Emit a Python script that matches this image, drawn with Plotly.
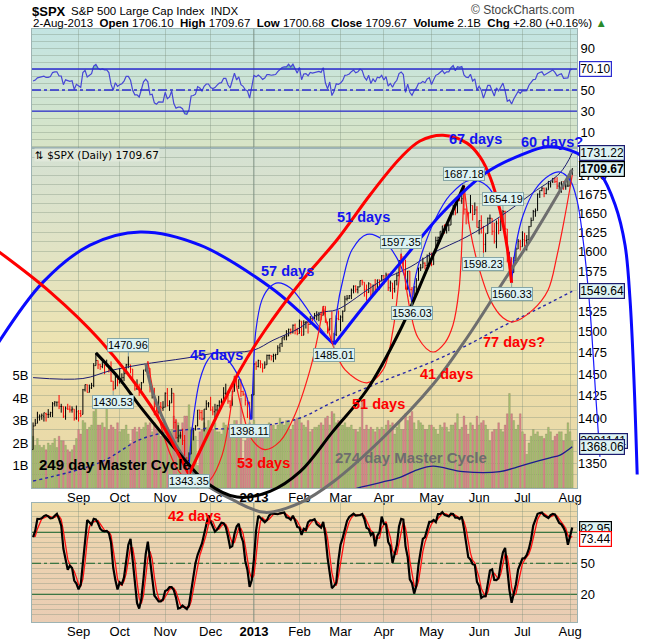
import base64
import numpy as np
import pandas as pd
import plotly.graph_objects as go

# ---------------------------------------------------------------- data
month_labels = ['Sep', 'Oct', 'Nov', 'Dec', '2013', 'Feb', 'Mar', 'Apr', 'May', 'Jun', 'Jul', 'Aug']
month_start_idx = [21, 40, 61, 82, 102, 123, 142, 162, 184, 206, 226, 248]

# July 2012 (before the visible window, needed for RSI / stochastic warm-up)
pre_open = [1362, 1366, 1374, 1368, 1355, 1352, 1341, 1341, 1335, 1357, 1354, 1364, 1373, 1377, 1363, 1351, 1338, 1338, 1360, 1386, 1385, 1379, 1375]
pre_high = [1367, 1375, 1374, 1368, 1355, 1362, 1345, 1341, 1358, 1357, 1365, 1376, 1380, 1377, 1363, 1352, 1343, 1363, 1389, 1391, 1387, 1386, 1375]
pre_low = [1355, 1366, 1363, 1349, 1347, 1337, 1333, 1326, 1335, 1348, 1345, 1358, 1371, 1362, 1330, 1329, 1332, 1338, 1360, 1381, 1379, 1371, 1354]
pre_close = [1366, 1374, 1368, 1355, 1352, 1341, 1341, 1335, 1357, 1354, 1364, 1373, 1377, 1363, 1351, 1338, 1338, 1360, 1386, 1385, 1379, 1375, 1365]

# 3-Aug-2012 .. 2-Aug-2013 daily bars
opens = [
    1365, 1391, 1394, 1401, 1402, 1402, 1405, 1404, 1404, 1406, 1416, 1418, 1418, 1413, 1413, 1402, 1411, 1410, 1409, 1410, 1400,
    1407, 1405, 1404, 1432, 1438, 1429, 1434, 1437, 1460, 1466, 1461, 1459, 1461, 1460, 1459, 1457, 1442, 1433, 1447,
    1441, 1444, 1446, 1451, 1461, 1461, 1456, 1441, 1433, 1433, 1429, 1440, 1455, 1461, 1457, 1433, 1434, 1413, 1409, 1413, 1411,
    1412, 1428, 1414, 1417, 1428, 1395, 1378, 1380, 1380, 1375, 1355, 1353, 1360, 1387, 1388, 1391, 1409, 1406, 1399, 1410, 1416,
    1416, 1409, 1407, 1409, 1414, 1418, 1419, 1428, 1428, 1419, 1414, 1430, 1447, 1436, 1444, 1430, 1427, 1420, 1418, 1402,
    1426, 1462, 1459, 1466, 1462, 1457, 1461, 1472, 1472, 1471, 1472, 1473, 1481, 1486, 1493, 1495, 1495, 1503, 1500, 1508, 1502,
    1498, 1513, 1496, 1511, 1512, 1509, 1518, 1517, 1519, 1520, 1521, 1520, 1531, 1512, 1502, 1516, 1488, 1497, 1516,
    1515, 1518, 1525, 1540, 1541, 1544, 1551, 1556, 1552, 1555, 1563, 1561, 1552, 1548, 1559, 1546, 1557, 1552, 1564, 1563,
    1569, 1562, 1570, 1554, 1560, 1553, 1563, 1569, 1588, 1593, 1589, 1552, 1575, 1552, 1542, 1555, 1563, 1579, 1579, 1585, 1582, 1594,
    1598, 1583, 1598, 1614, 1618, 1626, 1633, 1627, 1634, 1634, 1650, 1659, 1650, 1667, 1666, 1669, 1655, 1651, 1650, 1660, 1648, 1654,
    1631, 1640, 1631, 1609, 1623, 1643, 1643, 1626, 1613, 1636, 1627, 1639, 1652, 1629, 1588, 1592, 1573, 1588, 1603, 1613,
    1606, 1615, 1614, 1615, 1632, 1640, 1652, 1653, 1675, 1680, 1683, 1676, 1681, 1689, 1692, 1696, 1692, 1686, 1690, 1692, 1685, 1686,
    1686, 1706]
highs = [
    1395, 1399, 1407, 1404, 1405, 1406, 1406, 1410, 1407, 1418, 1419, 1418, 1426, 1416, 1413, 1413, 1416, 1414, 1413, 1410, 1414,
    1409, 1409, 1433, 1438, 1438, 1438, 1440, 1463, 1475, 1466, 1462, 1465, 1461, 1467, 1460, 1465, 1442, 1450, 1447,
    1457, 1451, 1455, 1462, 1471, 1461, 1456, 1442, 1444, 1439, 1441, 1455, 1462, 1465, 1457, 1436, 1434, 1421, 1425, 1418, 1419,
    1429, 1434, 1420, 1434, 1428, 1399, 1392, 1385, 1388, 1381, 1357, 1362, 1387, 1389, 1392, 1409, 1409, 1409, 1410, 1420, 1418,
    1424, 1413, 1416, 1415, 1420, 1422, 1435, 1439, 1431, 1420, 1431, 1448, 1448, 1444, 1444, 1431, 1428, 1423, 1418, 1427,
    1463, 1465, 1467, 1466, 1462, 1465, 1473, 1473, 1472, 1474, 1474, 1484, 1486, 1493, 1496, 1502, 1504, 1504, 1509, 1510, 1505,
    1515, 1513, 1514, 1513, 1512, 1519, 1518, 1523, 1525, 1524, 1524, 1531, 1531, 1512, 1516, 1525, 1499, 1520, 1526,
    1520, 1526, 1544, 1545, 1545, 1553, 1557, 1557, 1556, 1563, 1564, 1561, 1558, 1561, 1559, 1558, 1565, 1564, 1564, 1570,
    1570, 1573, 1572, 1563, 1560, 1563, 1573, 1589, 1597, 1593, 1589, 1575, 1575, 1555, 1556, 1566, 1579, 1584, 1592, 1586, 1596, 1598,
    1598, 1598, 1619, 1619, 1626, 1633, 1635, 1634, 1636, 1651, 1661, 1661, 1668, 1672, 1675, 1687, 1656, 1651, 1674, 1660, 1664, 1659,
    1640, 1647, 1633, 1623, 1644, 1648, 1643, 1637, 1640, 1643, 1648, 1654, 1653, 1629, 1599, 1592, 1593, 1605, 1616, 1615,
    1626, 1624, 1621, 1633, 1644, 1654, 1656, 1676, 1680, 1685, 1684, 1684, 1693, 1692, 1697, 1698, 1698, 1691, 1692, 1692, 1693, 1699,
    1707, 1710]
lows = [
    1365, 1391, 1394, 1397, 1398, 1396, 1396, 1400, 1401, 1401, 1413, 1413, 1410, 1406, 1400, 1398, 1409, 1406, 1406, 1397, 1398,
    1396, 1401, 1404, 1430, 1429, 1429, 1433, 1435, 1460, 1456, 1455, 1457, 1450, 1459, 1452, 1441, 1431, 1433, 1436,
    1439, 1439, 1442, 1451, 1457, 1451, 1441, 1431, 1432, 1425, 1427, 1440, 1453, 1452, 1429, 1422, 1403, 1407, 1405, 1403, 1408,
    1412, 1413, 1408, 1417, 1388, 1377, 1373, 1377, 1370, 1352, 1348, 1343, 1360, 1375, 1386, 1391, 1398, 1397, 1385, 1409, 1412,
    1408, 1403, 1399, 1404, 1410, 1415, 1419, 1426, 1416, 1411, 1414, 1430, 1435, 1433, 1424, 1425, 1414, 1400, 1398, 1399,
    1426, 1455, 1458, 1457, 1452, 1457, 1461, 1467, 1466, 1464, 1467, 1473, 1476, 1482, 1490, 1490, 1495, 1497, 1498, 1497, 1496,
    1498, 1495, 1496, 1504, 1498, 1509, 1513, 1515, 1514, 1513, 1514, 1520, 1511, 1498, 1502, 1488, 1485, 1495, 1514,
    1501, 1512, 1525, 1538, 1540, 1540, 1547, 1548, 1547, 1555, 1557, 1543, 1538, 1548, 1543, 1546, 1546, 1552, 1551, 1562,
    1558, 1562, 1550, 1549, 1540, 1548, 1557, 1569, 1586, 1579, 1552, 1552, 1543, 1536, 1539, 1548, 1563, 1575, 1579, 1577, 1582, 1587,
    1581, 1583, 1598, 1611, 1612, 1623, 1623, 1623, 1626, 1634, 1647, 1647, 1650, 1666, 1662, 1648, 1635, 1636, 1650, 1640, 1648, 1631,
    1622, 1623, 1598, 1599, 1623, 1636, 1621, 1610, 1604, 1622, 1627, 1639, 1628, 1586, 1578, 1560, 1573, 1588, 1603, 1601,
    1606, 1606, 1601, 1615, 1632, 1640, 1645, 1653, 1670, 1679, 1671, 1675, 1681, 1684, 1690, 1690, 1682, 1681, 1677, 1681, 1681, 1685,
    1686, 1701]
closes = [
    1391, 1394, 1401, 1402, 1403, 1406, 1404, 1404, 1406, 1416, 1418, 1418, 1413, 1413, 1402, 1411, 1410, 1409, 1410, 1399, 1407,
    1405, 1403, 1432, 1438, 1429, 1434, 1437, 1460, 1466, 1461, 1459, 1461, 1460, 1460, 1457, 1442, 1433, 1447, 1441,
    1444, 1446, 1451, 1461, 1461, 1456, 1441, 1433, 1433, 1429, 1440, 1455, 1461, 1457, 1433, 1434, 1413, 1409, 1413, 1412, 1412,
    1428, 1414, 1417, 1428, 1395, 1378, 1380, 1380, 1375, 1355, 1353, 1360, 1387, 1388, 1391, 1409, 1406, 1399, 1410, 1416, 1416,
    1409, 1407, 1409, 1414, 1418, 1419, 1428, 1428, 1419, 1414, 1430, 1447, 1436, 1444, 1430, 1427, 1420, 1418, 1402, 1426,
    1462, 1459, 1466, 1462, 1457, 1461, 1472, 1472, 1471, 1472, 1473, 1481, 1486, 1493, 1495, 1495, 1503, 1500, 1508, 1502, 1498,
    1513, 1496, 1511, 1512, 1509, 1518, 1517, 1519, 1520, 1521, 1520, 1531, 1512, 1502, 1516, 1488, 1497, 1516, 1515,
    1518, 1525, 1540, 1541, 1544, 1551, 1556, 1552, 1555, 1563, 1561, 1552, 1548, 1559, 1546, 1557, 1552, 1564, 1563, 1569,
    1562, 1570, 1554, 1560, 1553, 1563, 1569, 1588, 1593, 1589, 1552, 1575, 1552, 1542, 1555, 1563, 1579, 1579, 1585, 1582, 1594, 1598,
    1583, 1598, 1614, 1618, 1626, 1633, 1627, 1634, 1634, 1650, 1659, 1650, 1667, 1666, 1669, 1655, 1651, 1650, 1660, 1648, 1654, 1631,
    1640, 1631, 1609, 1623, 1643, 1643, 1626, 1613, 1636, 1627, 1639, 1652, 1629, 1588, 1592, 1573, 1588, 1603, 1613, 1606,
    1615, 1614, 1615, 1632, 1640, 1652, 1653, 1675, 1680, 1683, 1676, 1681, 1689, 1692, 1696, 1692, 1686, 1690, 1692, 1685, 1686, 1686,
    1707, 1709.67]
volumes_b = [
    2.3, 1.9, 2.2, 1.9, 1.8, 1.9, 1.7, 2.0, 1.9, 2.0, 2.2, 1.8, 2.3, 2.1, 2.1, 1.9, 1.7, 1.6, 1.7, 1.9, 2.2,
    2.6, 2.4, 3.0, 2.9, 2.6, 2.7, 2.8, 3.4, 3.6, 2.8, 2.8, 2.9, 2.7, 3.6, 2.6, 2.8, 2.7, 2.6, 2.9,
    2.5, 2.6, 2.6, 2.8, 2.4, 2.0, 2.6, 2.7, 2.5, 2.7, 2.6, 2.7, 2.9, 2.8, 2.9, 2.5, 2.9, 2.6, 2.6, 2.3, 2.9,
    2.8, 2.7, 2.4, 2.6, 3.2, 3.0, 2.9, 2.4, 2.9, 3.2, 3.2, 3.7, 2.7, 2.6, 2.3, 1.0, 2.5, 2.6, 2.9, 2.7, 3.0,
    2.6, 2.6, 2.9, 2.5, 2.5, 2.4, 2.9, 2.8, 2.7, 2.5, 2.8, 3.0, 3.0, 2.8, 4.0, 1.2, 2.1, 2.3, 2.9, 2.5,
    3.0, 2.8, 2.6, 2.6, 2.6, 2.7, 2.8, 2.9, 2.8, 2.8, 2.6, 2.8, 3.1, 2.9, 2.8, 3.0, 3.0, 2.6, 2.8, 3.0, 3.1,
    3.1, 2.9, 2.8, 2.7, 3.0, 2.5, 2.6, 2.7, 2.7, 2.8, 2.9, 2.8, 3.1, 3.2, 2.8, 3.4, 3.3, 2.9, 3.0,
    2.8, 2.8, 2.9, 2.7, 2.7, 2.8, 2.6, 2.6, 2.5, 2.7, 3.9, 2.6, 2.8, 2.6, 2.7, 2.6, 2.5, 2.7, 2.6, 2.7,
    2.6, 2.8, 3.0, 2.8, 2.9, 2.4, 2.7, 2.9, 2.6, 2.6, 3.3, 3.0, 3.2, 3.4, 2.9, 2.6, 3.0, 2.9, 2.8, 2.6, 2.6, 2.8,
    2.8, 2.7, 2.6, 2.4, 2.8, 2.7, 2.9, 2.7, 2.5, 2.8, 2.8, 2.9, 3.3, 2.6, 2.7, 3.2, 2.8, 2.4, 2.9, 2.8, 2.6, 3.2,
    2.8, 2.9, 3.0, 2.8, 2.6, 2.1, 2.5, 2.6, 2.6, 2.9, 2.6, 2.5, 2.8, 3.3, 4.2, 3.3, 3.0, 2.6, 2.8, 3.3,
    2.5, 2.4, 1.5, 2.0, 2.3, 2.6, 2.4, 2.5, 2.3, 2.3, 2.2, 2.4, 2.7, 2.5, 2.1, 2.3, 2.4, 2.5, 2.5, 2.1, 2.4, 2.9,
    2.5, 2.081141]

# Bollinger Bands (200, 2) (trading-day index, price)
bb_upper_day = [0, 23, 35.5, 49.4, 71.1, 85, 101.6, 110.8, 123.3, 132.5, 140.4, 154.2, 161.6, 174.1, 184.7, 200.4, 215.6, 230.9, 243.4, 249]
bb_upper_val = [1446, 1445, 1454, 1461, 1469, 1475, 1478, 1490, 1505, 1523, 1527, 1551, 1564, 1580, 1598, 1619, 1645, 1677, 1704, 1731.22]
bb_mid_day = [0, 30.9, 49.4, 61.9, 77.1, 92.3, 108, 123.3, 138.5, 161.6, 184.7, 200.4, 215.6, 230.9, 249]
bb_mid_val = [1331, 1351, 1376, 1384, 1388, 1388, 1392, 1400, 1418, 1442, 1465, 1484, 1505, 1525, 1549.64]
bb_lower_day = [138.5, 152.4, 161.6, 169.5, 177.4, 184.7, 198.6, 215.6, 223.5, 230.9, 238.7, 243.4, 249]
bb_lower_val = [1316, 1325, 1330, 1335, 1343, 1347, 1341, 1341, 1346, 1351, 1356, 1359, 1368.06]

# hand-drawn cycle arcs (trading-day index, price)
arc_red_left_day = [-16, 7.8, 30.9, 54.0, 72.0]
arc_red_left_price = [1600, 1549, 1490, 1415, 1338]
arc_red_big_day = [72, 84.0, 95.6, 107.1, 123.3, 140.4, 155.6, 169.5, 178.7, 189.3, 200.4, 206.4, 211.1, 215.6, 218.9, 221]
arc_red_big_price = [1338, 1398, 1455, 1502, 1560, 1615, 1674, 1724, 1748, 1756, 1745, 1726, 1698, 1654, 1606, 1560]
arc_black_day = [29, 40.1, 49.4, 61.9, 71.1, 80.3, 94.2, 109.4, 123.3, 138.5, 154.2, 169.5, 183.3, 199]
arc_black_price = [1475, 1444, 1413, 1376, 1351, 1329, 1314, 1320, 1341, 1385, 1432, 1502, 1586, 1687]
arc_gray_day = [52, 55.4, 64.6, 71.1, 77.1, 92.3, 107.1, 123.3, 138.5, 161.6, 184.7, 200.4, 215.6, 230.9, 249]
arc_gray_price = [1463, 1428, 1376, 1351, 1332, 1311, 1298, 1308, 1330, 1378, 1438, 1493, 1555, 1620, 1708]
arc_blue_a_day = [-16, 4.6, 26.3, 49.4, 77.1, 109.4, 123.3, 139]
arc_blue_a_price = [1487, 1561, 1608, 1625, 1608, 1555, 1524, 1485]
arc_blue_b_day = [139, 152.4, 169.5, 189.3, 209.7, 224.9, 237.8, 251.2, 261.8, 268.8, 273.4, 275.7, 277.5, 279]
arc_blue_b_price = [1485, 1530, 1585, 1651, 1705, 1728, 1740, 1731, 1704, 1661, 1608, 1539, 1444, 1338]
arc_b45_day = [72, 73.4, 77.1, 80.8, 84.5, 89.1, 95.6, 99.7, 100.5]
arc_b45_price = [1343, 1387, 1444, 1467, 1476, 1469, 1444, 1415, 1398]
arc_b57_day = [101, 101.6, 102.9, 105.7, 109.4, 113.1, 118.7, 124.7, 131.6, 139]
arc_b57_price = [1398, 1444, 1502, 1539, 1555, 1560, 1554, 1535, 1508, 1485]
arc_b51_day = [139, 140.4, 143.1, 147.3, 154.2, 161.6, 168.1, 172.7, 175]
arc_b51_price = [1485, 1527, 1564, 1602, 1622, 1615, 1591, 1560, 1536]
arc_b67_day = [175, 176.8, 180.1, 185.6, 192.6, 201.8, 209.7, 214.8, 218, 220.3, 221]
arc_b67_price = [1536, 1570, 1602, 1641, 1674, 1694, 1686, 1661, 1621, 1589, 1560]
arc_b60_day = [221, 223, 226.3, 231.8, 238.7, 243.4, 248, 251.2, 254, 257.2, 260, 261.8]
arc_b60_price = [1560, 1608, 1647, 1681, 1701, 1705, 1694, 1667, 1615, 1527, 1420, 1357]
arc_r42_day = [53, 56.3, 60.9, 66.9, 75.7, 81.7, 87.3, 90.9, 93]
arc_r42_price = [1465, 1420, 1376, 1343, 1324, 1332, 1359, 1404, 1448]
arc_r53_day = [93, 96.5, 101.1, 107.1, 114, 121, 127.9, 131.6, 134]
arc_r53_price = [1448, 1409, 1376, 1365, 1374, 1404, 1455, 1496, 1531]
arc_r51_day = [134, 138.5, 144.1, 154.2, 161.6, 166.2, 168.5, 170]
arc_r51_price = [1531, 1484, 1455, 1440, 1455, 1502, 1551, 1597]
arc_r41_day = [170, 171.8, 174.1, 177.8, 184.7, 190.2, 193.9, 196.7, 198.1, 199]
arc_r41_price = [1597, 1564, 1527, 1493, 1476, 1487, 1508, 1551, 1615, 1687]
arc_r77_day = [199, 201.8, 205.5, 211.1, 217, 221.7, 230.9, 237.8, 242, 245.7, 249]
arc_r77_price = [1687, 1628, 1583, 1539, 1517, 1512, 1527, 1551, 1595, 1647, 1701]

# labelled pivots
pivot_day = [44, 37, 72, 100, 139, 175, 170, 199, 217, 208, 221]
pivot_price = [1470.96, 1430.53, 1343.35, 1398.11, 1485.01, 1536.03, 1597.35, 1687.18, 1654.19, 1598.23, 1560.33]
pivot_is_high = [True, False, False, False, False, False, True, True, True, False, False]

# last values shown on the right axis
last_close = 1709.67
last_rsi = 70.10
last_bb_upper, last_bb_mid, last_bb_lower = 1731.22, 1549.64, 1368.06
last_volume_k = 2081141
last_stoch_k, last_stoch_d = 82.95, 73.44

n = len(closes)
for arr in (opens, highs, lows, volumes_b):
    assert len(arr) == n, len(arr)
assert n == 250

# ---------------------------------------------------------------- indicators
n_pre = len(pre_close)
all_c = np.array(pre_close + closes, float)
all_h = np.array(pre_high + highs, float)
all_l = np.array(pre_low + lows, float)
delta = np.diff(all_c)
gain = np.where(delta > 0, delta, 0.0)
loss = np.where(delta < 0, -delta, 0.0)
ag = np.full(len(delta), np.nan)
al = np.full(len(delta), np.nan)
ag[13] = gain[:14].mean()
al[13] = loss[:14].mean()
for i in range(14, len(delta)):
    ag[i] = (ag[i - 1] * 13 + gain[i]) / 14
    al[i] = (al[i - 1] * 13 + loss[i]) / 14
rsi_all = np.r_[np.nan, 100 - 100 / (1 + ag / al)]
rsi = rsi_all[n_pre:]

hh = pd.Series(all_h).rolling(14).max()
ll = pd.Series(all_l).rolling(14).min()
fast_k = 100 * (pd.Series(all_c) - ll) / (hh - ll)
slow_k = fast_k.rolling(3).mean()
slow_d = slow_k.rolling(3).mean()
stoch_k = slow_k.values[n_pre:]
stoch_d = slow_d.values[n_pre:]

idx = np.arange(n)
c = np.array(closes, float)
prev_c = np.r_[pre_close[-1], c[:-1]]
up = c >= prev_c

# ---------------------------------------------------------------- geometry
W, H = 670, 639
PX_L, PX_R = 32, 577
RSI_T, RSI_B = 29, 148
MAIN_T, MAIN_B = 148, 488
STO_T, STO_B = 503, 622


def ydom(t, b):
    return [1 - b / H, 1 - t / H]


xdom = [PX_L / W, PX_R / W]
x_range = [-0.5, 251.2]
price_range = [np.log10(1323.6), np.log10(1738.2)]
vol_range = [0, 15.11]
rsi_range = [-5.2, 108.1]
sto_range = [-6.8, 108.4]

xs = (x_range[1] - x_range[0]) / (PX_R - PX_L)
full_x = [x_range[0] - PX_L * xs, x_range[1] + (W - PX_R) * xs]
ys = (price_range[1] - price_range[0]) / (MAIN_B - MAIN_T)
full_y = [price_range[0] - (H - MAIN_B) * ys, price_range[1] + MAIN_T * ys]

FONT = 'Arial, Liberation Sans, sans-serif'
GRID = 'rgba(120,140,120,0.35)'
BORDER = '#9db3b3'

# ---------------------------------------------------------------- traces
fig = go.Figure()

# volume (base main subplot)
fig.add_trace(go.Bar(
    x=idx, y=volumes_b, xaxis='x', yaxis='y',
    marker=dict(color=np.where(up, 'rgb(166,194,112)', 'rgb(221,132,139)'),
                line=dict(color='rgba(110,100,80,0.45)', width=0.5)),
    width=0.8, hoverinfo='skip'))

# RSI
rsi_base70 = np.full(n, 70.0)
rsi_base30 = np.full(n, 30.0)
fig.add_trace(go.Scatter(x=idx, y=rsi_base70, xaxis='x3', yaxis='y3', mode='lines',
                         line=dict(width=0), hoverinfo='skip'))
fig.add_trace(go.Scatter(x=idx, y=np.maximum(rsi, 70), xaxis='x3', yaxis='y3', mode='lines',
                         line=dict(width=0), fill='tonexty', fillcolor='rgba(90,175,160,0.75)', hoverinfo='skip'))
fig.add_trace(go.Scatter(x=idx, y=rsi_base30, xaxis='x3', yaxis='y3', mode='lines',
                         line=dict(width=0), hoverinfo='skip'))
fig.add_trace(go.Scatter(x=idx, y=np.minimum(rsi, 30), xaxis='x3', yaxis='y3', mode='lines',
                         line=dict(width=0), fill='tonexty', fillcolor='rgba(90,175,160,0.75)', hoverinfo='skip'))
fig.add_trace(go.Scatter(x=idx, y=rsi, xaxis='x3', yaxis='y3', mode='lines',
                         line=dict(color='#4646d6', width=1.2), hoverinfo='skip'))

# Stochastics
fig.add_trace(go.Scatter(x=idx, y=stoch_d, xaxis='x4', yaxis='y4', mode='lines',
                         line=dict(color='#ff1010', width=1.3), hoverinfo='skip'))
fig.add_trace(go.Scatter(x=idx, y=stoch_k, xaxis='x4', yaxis='y4', mode='lines',
                         line=dict(color='black', width=2.2), hoverinfo='skip'))

# cycle arcs on a full-figure overlay axis (same scale as main panel)
arcs = [
    (arc_blue_a_day, arc_blue_a_price, '#0a0aff', 3),
    (arc_b45_day, arc_b45_price, '#1a1aff', 1.2),
    (arc_b57_day, arc_b57_price, '#1a1aff', 1.2),
    (arc_b51_day, arc_b51_price, '#1a1aff', 1.2),
    (arc_b67_day, arc_b67_price, '#1a1aff', 1.2),
    (arc_b60_day, arc_b60_price, '#1a1aff', 1.2),
    (arc_r42_day, arc_r42_price, '#ff1a1a', 1.2),
    (arc_r53_day, arc_r53_price, '#ff1a1a', 1.2),
    (arc_r51_day, arc_r51_price, '#ff1a1a', 1.2),
    (arc_r41_day, arc_r41_price, '#ff1a1a', 1.2),
    (arc_r77_day, arc_r77_price, '#ff1a1a', 1.2),
    (arc_gray_day, arc_gray_price, '#6e6e6e', 3),
    (arc_black_day, arc_black_price, '#000000', 3),
    (arc_red_left_day, arc_red_left_price, '#ff0000', 3),
    (arc_red_big_day, arc_red_big_price, '#ff0000', 3),
    (arc_blue_b_day, arc_blue_b_price, '#0a0aff', 3),
]
for d, p, col, wdt in arcs:
    fig.add_trace(go.Scatter(x=d, y=p, xaxis='x5', yaxis='y5', mode='lines',
                             line=dict(color=col, width=wdt, shape='spline', smoothing=1.0),
                             hoverinfo='skip'))

# price overlay: Bollinger bands + OHLC bars
fig.add_trace(go.Scatter(x=bb_mid_day, y=bb_mid_val, xaxis='x', yaxis='y2', mode='lines',
                         line=dict(color='#2828a8', width=1.4, dash='dot', shape='spline'), hoverinfo='skip'))
fig.add_trace(go.Scatter(x=bb_upper_day, y=bb_upper_val, xaxis='x', yaxis='y2', mode='lines',
                         line=dict(color='#1c1c70', width=1, shape='spline'), hoverinfo='skip'))
fig.add_trace(go.Scatter(x=bb_lower_day, y=bb_lower_val, xaxis='x', yaxis='y2', mode='lines',
                         line=dict(color='#1c1c90', width=1.3, shape='spline'), hoverinfo='skip'))

o = np.array(opens, float)
hi = np.array(highs, float)
lo = np.array(lows, float)
for mask, col in ((up, 'black'), (~up, '#ff0000')):
    fig.add_trace(go.Ohlc(x=idx[mask], open=o[mask], high=hi[mask], low=lo[mask], close=c[mask],
                          xaxis='x', yaxis='y2', tickwidth=0.35,
                          increasing=dict(line=dict(color=col, width=1)),
                          decreasing=dict(line=dict(color=col, width=1)),
                          hoverinfo='skip'))

# ---------------------------------------------------------------- axes
tick_font = dict(family=FONT, size=13, color='black')
month_text = ['<b>2013</b>' if m == '2013' else m for m in month_labels]

price_grid = [1337.5 + 12.5 * k for k in range(33)]
price_text = [f'{int(v)}' if (v % 25 == 0 and 1350 <= v <= 1725 and v not in (1375, 1550)) else ''
              for v in price_grid]
rsi_grid = [10 + 20 / 3 * k for k in range(-2, 15)]
rsi_text = [str(round(v)) if round(v, 3) in (10, 30, 50, 90) else '' for v in rsi_grid]
sto_grid = list(range(0, 101, 5))
sto_text = [str(v) if v in (20, 50) else '' for v in sto_grid]

common_x = dict(tickvals=month_start_idx, ticktext=month_text, showgrid=True, gridcolor=GRID,
                gridwidth=1, zeroline=False, ticks='', tickfont=tick_font, ticklabelstandoff=-3,
                showline=True, mirror=True, linecolor=BORDER, linewidth=1)

layout = dict(
    width=W, height=H, margin=dict(l=0, r=0, t=0, b=0, pad=0, autoexpand=False),
    paper_bgcolor='white', plot_bgcolor='rgba(0,0,0,0)', showlegend=False,
    bargap=0.15,
    xaxis=dict(domain=xdom, range=x_range, anchor='y', rangeslider=dict(visible=False), **common_x),
    yaxis=dict(domain=ydom(MAIN_T, MAIN_B), range=vol_range, anchor='x', side='left',
               tickvals=[1, 2, 3, 4, 5], ticktext=['1B', '2B', '3B', '4B', '5B'], showgrid=False,
               zeroline=False, ticks='', tickfont=tick_font, showline=True, mirror=True,
               linecolor=BORDER, linewidth=1),
    yaxis2=dict(overlaying='y', type='log', range=price_range, side='right', anchor='x',
                tickvals=price_grid, ticktext=price_text, showgrid=True, gridcolor=GRID,
                zeroline=False, ticks='', tickfont=tick_font, showline=False),
    xaxis3=dict(domain=xdom, anchor='y3', matches='x', showticklabels=False,
                **{k: v for k, v in common_x.items() if k not in ('tickfont', 'ticklabelstandoff')}),
    yaxis3=dict(domain=ydom(RSI_T, RSI_B), range=rsi_range, anchor='x3', side='right',
                tickvals=rsi_grid, ticktext=rsi_text, showgrid=True, gridcolor=GRID, zeroline=False,
                ticks='', tickfont=tick_font, showline=True, mirror=True, linecolor=BORDER),
    xaxis4=dict(domain=xdom, anchor='y4', matches='x', **common_x),
    yaxis4=dict(domain=ydom(STO_T, STO_B), range=sto_range, anchor='x4', side='right',
                tickvals=sto_grid, ticktext=sto_text, showgrid=True, gridcolor=GRID, zeroline=False,
                ticks='', tickfont=tick_font, showline=True, mirror=True, linecolor=BORDER),
    xaxis5=dict(domain=[0, 1], range=full_x, anchor='y5', visible=False, fixedrange=True),
    yaxis5=dict(domain=[0, 1], type='log', range=full_y, anchor='x5', visible=False, fixedrange=True),
)
fig.update_layout(**layout)


# ---------------------------------------------------------------- backgrounds
def grad_img(stops):
    st = ''.join(f"<stop offset='{off}' stop-color='{col}'/>" for off, col in stops)
    svg = ("<svg xmlns='http://www.w3.org/2000/svg' width='100' height='100' viewBox='0 0 100 100' "
           "preserveAspectRatio='none'><defs><linearGradient id='g' x1='0' y1='0' x2='0' y2='1'>"
           f"{st}</linearGradient></defs><rect x='0' y='0' width='100' height='100' fill='url(#g)'/></svg>")
    return 'data:image/svg+xml;base64,' + base64.b64encode(svg.encode()).decode()


rsi_stops = [(0, '#c3e4e2'), (1, '#d8e4c6')]
main_stops = [(0, '#d4e1d3'), (0.3, '#e1e3c4'), (0.55, '#ece3b3'), (0.68, '#eee2ad'), (0.7, '#ebdca9'), (1, '#e9d9a9')]
sto_stops = [(0, '#efdeac'), (0.25, '#edd4af'), (1, '#eacdb4')]
images = []
for t, b, stops in ((RSI_T, RSI_B, rsi_stops), (MAIN_T, MAIN_B, main_stops), (STO_T, STO_B, sto_stops)):
    images.append(dict(source=grad_img(stops), xref='paper', yref='paper', x=PX_L / W, y=1 - t / H,
                       sizex=(PX_R - PX_L) / W, sizey=(b - t) / H, xanchor='left', yanchor='top',
                       sizing='stretch', layer='below'))
fig.update_layout(images=images)

# ---------------------------------------------------------------- reference lines
shapes = []
for yv, dash in ((70, 'solid'), (30, 'solid'), (50, 'dashdot')):
    shapes.append(dict(type='line', xref='x3 domain', yref='y3', x0=0, x1=1, y0=yv, y1=yv,
                       line=dict(color='#2b2bd0', width=1.3, dash=dash), layer='above'))
for yv, dash in ((80, 'solid'), (20, 'solid'), (50, 'dashdot')):
    shapes.append(dict(type='line', xref='x4 domain', yref='y4', x0=0, x1=1, y0=yv, y1=yv,
                       line=dict(color='#1d6a2a', width=1.3, dash=dash), layer='below'))
for xr, yr in (('x3', 'y3 domain'), ('x', 'y domain'), ('x4', 'y4 domain')):
    shapes.append(dict(type='line', xref=xr, yref=yr, x0=102, x1=102, y0=0, y1=1,
                       line=dict(color='rgba(100,120,115,0.6)', width=1), layer='below'))
fig.update_layout(shapes=shapes)

# ---------------------------------------------------------------- annotations
ann = []


def px_ann(text, px, py, size, color='black', xanchor='center', bold=False, **kw):
    ann.append(dict(text=f'<b>{text}</b>' if bold else text, xref='paper', yref='paper',
                    x=px / W, y=1 - py / H, xanchor=xanchor, yanchor='middle', showarrow=False,
                    font=dict(family=FONT, size=size, color=color), **kw))


# header
px_ann('$SPX', 30, 11, 13, bold=True, xanchor='left')
px_ann('S&amp;P 500 Large Cap Index&nbsp;&nbsp;INDX', 69, 11, 11.5, xanchor='left')
px_ann('2-Aug-2013&nbsp;&nbsp;<b>Open</b> 1706.10&nbsp;&nbsp;<b>High</b> 1709.67&nbsp;&nbsp;<b>Low</b> 1700.68'
       '&nbsp;&nbsp;<b>Close</b> 1709.67&nbsp;&nbsp;<b>Volume</b> 2.1B&nbsp;&nbsp;<b>Chg</b> +2.80 (+0.16%)'
       ' <span style="color:#2a8a2a">▲</span>', 31, 23.5, 11.5, xanchor='left')
px_ann('© StockCharts.com', 577, 10, 12, color='#444444', xanchor='right')
ann.append(dict(text='⇅ $SPX (Daily) 1709.67', xref='paper', yref='paper', x=34 / W, y=1 - 155.5 / H,
                xanchor='left', yanchor='middle', showarrow=False, bgcolor='rgba(226,233,220,0.85)',
                borderpad=0, font=dict(family='DejaVu Sans, sans-serif', size=10.5, color='black')))

# cycle labels (centre positions in pixels)
cycle_labels = [
    ('45 days', 216, 355, '#1414f0', 14.5), ('57 days', 287, 271, '#1414f0', 14.5),
    ('51 days', 363, 217, '#1414f0', 14.5), ('67 days', 475, 139, '#1414f0', 14.5),
    ('60 days?', 552, 142, '#1414f0', 14.5), ('53 days', 263, 463, '#ff0000', 14.5),
    ('51 days', 378, 404, '#ff0000', 14.5), ('41 days', 446, 374, '#ff0000', 14.5),
    ('77 days?', 514, 342, '#ff0000', 14.5), ('42 days', 194, 516, '#ff0000', 14.5),
    ('249 day Master Cycle', 115, 464, '#000000', 15), ('274 day Master Cycle', 411, 457, '#6e6e6e', 15),
]
for text, px, py, col, sz in cycle_labels:
    px_ann(text, px, py, sz, color=col, bold=True)

# pivot value labels
for d, p, is_hi in zip(pivot_day, pivot_price, pivot_is_high):
    ann.append(dict(text=f'{p:.2f}', xref='x', yref='y2', x=d, y=np.log10(p), showarrow=True,
                    arrowhead=0, arrowwidth=1, arrowcolor='#86a6a6', ax=0, ay=-11 if is_hi else 11,
                    standoff=0, bgcolor='#dcf2f2', bordercolor='#86a6a6', borderwidth=1, borderpad=0,
                    font=dict(family=FONT, size=11, color='black')))

# right axis value boxes
right_boxes = [
    ('y3', last_rsi, f'{last_rsi:.2f}', 'white', '#2b2bd0', False),
    ('y2', np.log10(last_bb_upper), f'{last_bb_upper:.2f}', '#ddf3f3', '#1c1c70', False),
    ('y2', np.log10(last_close), f'{last_close:.2f}', '#ddf3f3', '#000000', True),
    ('y2', np.log10(last_bb_mid), f'{last_bb_mid:.2f}', '#ddf3f3', '#1c1c70', False),
    ('y', last_volume_k / 1e6, f'{last_volume_k}', '#ddf3f3', '#1c1c70', False),
    ('y2', np.log10(last_bb_lower), f'{last_bb_lower:.2f}', '#ddf3f3', '#1c1c70', False),
    ('y4', last_stoch_k, f'{last_stoch_k:.2f}', '#ddf3f3', '#000000', False),
    ('y4', last_stoch_d, f'{last_stoch_d:.2f}', 'white', '#ff0000', False),
]
for yref, yv, text, bg, bc, bold in right_boxes:
    ann.append(dict(text=f'<b>{text}</b>' if bold else text, xref='paper', yref=yref, x=(PX_R + 2) / W,
                    y=yv, xanchor='left', yanchor='middle', showarrow=False, bgcolor=bg,
                    bordercolor=bc, borderwidth=1.2, borderpad=0,
                    font=dict(family=FONT, size=12, color='black')))

fig.update_layout(annotations=ann)

fig.write_html('out.html', config={'displayModeBar': False},
               post_script="document.body.style.margin='0px';document.body.style.padding='0px';"
                           "document.documentElement.style.overflow='hidden';")
